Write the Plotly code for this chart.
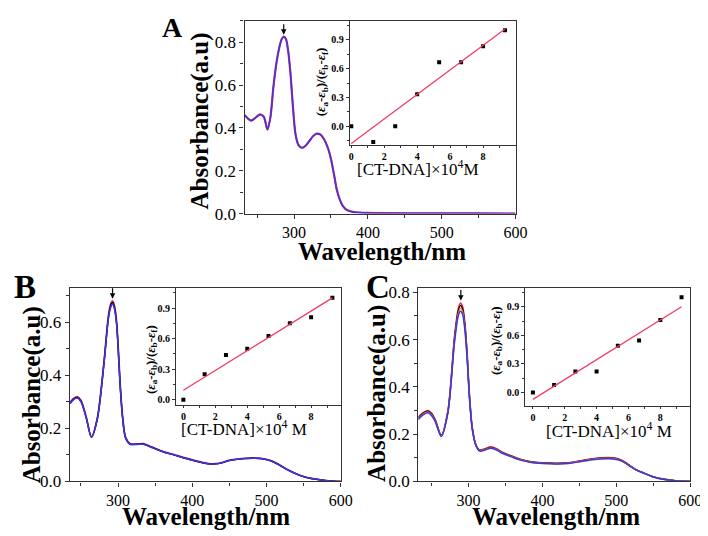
import plotly.graph_objects as go
import numpy as np

# ---------------- data ----------------
wl_A = [233, 238, 242, 248, 254, 259, 264, 268, 272, 276, 280, 283, 286, 289, 292, 295, 298, 302, 306, 311,
        316, 321, 326, 331, 336, 341, 346, 350, 354, 358, 362, 366, 371, 378, 388, 400, 430, 480, 540, 600]
abs_A = [0.460, 0.442, 0.434, 0.448, 0.463, 0.452, 0.392, 0.450, 0.590, 0.700, 0.775, 0.812, 0.826, 0.815,
         0.760, 0.660, 0.520, 0.370, 0.320, 0.307, 0.318, 0.340, 0.362, 0.373, 0.368, 0.345, 0.305, 0.255,
         0.185, 0.110, 0.065, 0.036, 0.018, 0.009, 0.005, 0.003, 0.002, 0.001, 0.001, 0.0]

wl_B = [235, 240, 245, 250, 257, 264, 272, 281, 287, 290, 292.5, 295, 298, 303, 306, 310, 316, 325, 334,
        345, 360, 375, 400, 422, 435, 452, 470, 485, 497, 505, 515, 528, 540, 550, 560, 572, 585, 600]
abs_B_red = [0.296, 0.312, 0.319, 0.305, 0.243, 0.168, 0.238, 0.450, 0.625, 0.668, 0.680, 0.662, 0.600,
             0.356, 0.245, 0.166, 0.142, 0.141, 0.142, 0.130, 0.113, 0.101, 0.081, 0.067, 0.068, 0.081,
             0.087, 0.088, 0.085, 0.079, 0.066, 0.045, 0.029, 0.018, 0.011, 0.006, 0.002, 0.0]
abs_B_black = [0.294, 0.310, 0.316, 0.302, 0.241, 0.167, 0.236, 0.447, 0.620, 0.662, 0.674, 0.656, 0.595,
               0.353, 0.243, 0.165, 0.141, 0.140, 0.141, 0.129, 0.112, 0.100, 0.080, 0.066, 0.067, 0.080,
               0.086, 0.087, 0.084, 0.078, 0.065, 0.044, 0.028, 0.018, 0.011, 0.006, 0.002, 0.0]
abs_B_blue = [0.292, 0.308, 0.314, 0.300, 0.240, 0.166, 0.235, 0.445, 0.615, 0.655, 0.668, 0.650, 0.590,
              0.350, 0.240, 0.164, 0.140, 0.139, 0.140, 0.128, 0.112, 0.100, 0.080, 0.066, 0.067, 0.080,
              0.086, 0.087, 0.084, 0.078, 0.065, 0.044, 0.028, 0.018, 0.011, 0.006, 0.002, 0.0]

wl_C = [232, 238, 245, 250, 255, 263, 272, 281, 286, 289, 292, 295, 298, 301, 305, 310, 315, 322, 330, 338,
        345, 358, 370, 385, 400, 420, 435, 450, 465, 478, 490, 500, 508, 516, 527, 538, 550, 565, 580, 600]
abs_C_red = [0.272, 0.290, 0.300, 0.288, 0.260, 0.196, 0.298, 0.615, 0.730, 0.755, 0.738, 0.670, 0.545,
             0.375, 0.228, 0.155, 0.133, 0.138, 0.146, 0.138, 0.125, 0.108, 0.094, 0.083, 0.079, 0.077,
             0.079, 0.087, 0.095, 0.100, 0.101, 0.098, 0.089, 0.072, 0.050, 0.035, 0.020, 0.009, 0.003, 0.0]
abs_C_black = [0.269, 0.287, 0.297, 0.285, 0.258, 0.194, 0.295, 0.607, 0.720, 0.745, 0.728, 0.660, 0.536,
               0.370, 0.225, 0.153, 0.131, 0.136, 0.144, 0.136, 0.123, 0.107, 0.093, 0.082, 0.078, 0.076,
               0.078, 0.085, 0.094, 0.098, 0.099, 0.096, 0.087, 0.071, 0.049, 0.034, 0.019, 0.009, 0.003, 0.0]
abs_C_orange = [0.266, 0.284, 0.294, 0.282, 0.255, 0.192, 0.293, 0.600, 0.710, 0.733, 0.717, 0.650, 0.528,
                0.365, 0.223, 0.152, 0.130, 0.135, 0.142, 0.135, 0.122, 0.106, 0.092, 0.081, 0.077, 0.075,
                0.077, 0.084, 0.093, 0.097, 0.098, 0.095, 0.086, 0.070, 0.049, 0.034, 0.019, 0.008, 0.003, 0.0]
abs_C_blue = [0.262, 0.280, 0.290, 0.278, 0.252, 0.190, 0.290, 0.590, 0.700, 0.720, 0.705, 0.640, 0.520,
              0.360, 0.220, 0.150, 0.128, 0.133, 0.140, 0.133, 0.120, 0.104, 0.090, 0.080, 0.076, 0.074,
              0.076, 0.083, 0.091, 0.095, 0.096, 0.093, 0.085, 0.069, 0.048, 0.034, 0.019, 0.008, 0.003, 0.0]

dna = [0, 1.333, 2.667, 4.0, 5.333, 6.667, 8.0, 9.333]
ratio_A = [0.0, -0.165, 0.0, 0.333, 0.667, 0.667, 0.833, 1.0]
ratio_B = [0.0, 0.25, 0.44, 0.50, 0.625, 0.75, 0.81, 1.0]
ratio_C = [0.0, 0.08, 0.22, 0.22, 0.49, 0.545, 0.76, 1.0]

x_ticks_main = [300, 400, 500, 600]
inset_x_ticks = [0, 2, 4, 6, 8]
inset_y_ticks = [0.0, 0.3, 0.6, 0.9]

# ---------------- styling ----------------
FONT = "Liberation Serif"
BLUE = "rgb(55,55,235)"
RED = "rgb(232,40,70)"
FIT = "rgb(240,60,100)"
AXC = "#333333"
W, H = 708, 536

def px_dom(a, b, total, flip=False):
    if flip:
        return [1 - b / total, 1 - a / total]
    return [a / total, b / total]

fig = go.Figure()

def spec(x, y, color, xa, ya, width=1.6):
    fig.add_trace(go.Scatter(x=x, y=y, mode="lines", line=dict(color=color, width=width, shape="spline", smoothing=0.8),
                             xaxis=xa, yaxis=ya, showlegend=False, hoverinfo="skip"))

def inset(x, y, xa, ya):
    fig.add_trace(go.Scatter(x=x, y=y, mode="markers", marker=dict(symbol="square", size=4, color="black"),
                             xaxis=xa, yaxis=ya, showlegend=False))
    k, b = np.polyfit(x, y, 1)
    xf = [x[0], x[-1]]
    fig.add_trace(go.Scatter(x=xf, y=[k * v + b for v in xf], mode="lines", line=dict(color=FIT, width=1.3),
                             xaxis=xa, yaxis=ya, showlegend=False))

# Panel A
spec(wl_A, abs_A, RED, "x", "y", 2.2)
spec(wl_A, abs_A, BLUE, "x", "y", 1.5)
inset(dna, ratio_A, "x2", "y2")
# Panel B
spec(wl_B, abs_B_red, RED, "x3", "y3", 1.8)
spec(wl_B, abs_B_black, "black", "x3", "y3", 1.4)
spec(wl_B, abs_B_blue, BLUE, "x3", "y3", 1.5)
inset(dna, ratio_B, "x4", "y4")
# Panel C
spec(wl_C, abs_C_red, RED, "x5", "y5", 1.6)
spec(wl_C, abs_C_black, "black", "x5", "y5", 1.4)
spec(wl_C, abs_C_orange, "rgb(230,130,40)", "x5", "y5", 1.4)
spec(wl_C, abs_C_blue, BLUE, "x5", "y5", 1.5)
inset(dna, ratio_C, "x6", "y6")

def main_x(dom, rng, anchor):
    return dict(domain=dom, range=rng, anchor=anchor, tickvals=x_ticks_main, ticks="outside", ticklen=4,
                tickcolor=AXC, showline=True, mirror=True, linecolor=AXC, linewidth=1.2, showgrid=False,
                zeroline=False, tickfont=dict(family=FONT, size=16, color="black"),
                minor=dict(dtick=50, tick0=0, ticks="outside", ticklen=3, tickcolor=AXC))

def main_y(dom, rng, anchor):
    return dict(domain=dom, range=rng, anchor=anchor, dtick=0.2, tick0=0, tickformat=".1f", ticks="outside",
                ticklen=4, tickcolor=AXC, showline=True, mirror=True, linecolor=AXC, linewidth=1.2,
                showgrid=False, zeroline=False, tickfont=dict(family=FONT, size=17, color="black"),
                minor=dict(dtick=0.1, tick0=0, ticks="outside", ticklen=3, tickcolor=AXC))

def ins_x(dom, rng, anchor):
    return dict(domain=dom, range=rng, anchor=anchor, tickvals=inset_x_ticks, ticks="outside", ticklen=2,
                tickcolor=AXC, showline=True, mirror=True, linecolor=AXC, linewidth=1, showgrid=False,
                zeroline=False, tickfont=dict(family=FONT, size=10, color="black", weight="bold"),
                minor=dict(dtick=1, tick0=0, ticks="outside", ticklen=2, tickcolor=AXC))

def ins_y(dom, rng, anchor):
    return dict(domain=dom, range=rng, anchor=anchor, tickvals=inset_y_ticks, tickformat=".1f", ticks="outside",
                ticklen=3, tickcolor=AXC, showline=True, mirror=True, linecolor=AXC, linewidth=1,
                showgrid=False, zeroline=False, tickfont=dict(family=FONT, size=10, color="black", weight="bold"),
                minor=dict(dtick=0.15, tick0=0, ticks="outside", ticklen=2, tickcolor=AXC))

fig.update_layout(
    width=W, height=H, margin=dict(l=0, r=0, t=0, b=0), paper_bgcolor="white", plot_bgcolor="white",
    font=dict(family=FONT, color="black"),
    xaxis=main_x(px_dom(240, 516, W), [233, 600], "y"),
    yaxis=main_y(px_dom(9, 207, H, True), [0, 0.9], "x"),
    xaxis2=ins_x(px_dom(347, 516, W), [-0.1, 9.97], "y2"),
    yaxis2=ins_y(px_dom(9, 137, H, True), [-0.2, 1.1], "x2"),
    xaxis3=main_x(px_dom(62, 338, W), [235, 600], "y3"),
    yaxis3=main_y(px_dom(283, 482, H, True), [0, 0.73], "x3"),
    xaxis4=ins_x(px_dom(170, 338, W), [-0.47, 9.86], "y4"),
    yaxis4=ins_y(px_dom(283, 404, H, True), [-0.055, 1.1], "x4"),
    xaxis5=main_x(px_dom(417, 694, W), [232, 600], "y5"),
    yaxis5=main_y(px_dom(283, 482, H, True), [0, 0.82], "x5"),
    xaxis6=ins_x(px_dom(526, 694, W), [-0.475, 9.88], "y6"),
    yaxis6=ins_y(px_dom(283, 405, H, True), [-0.145, 1.1], "x6"),
)

ann = []
def paper_text(text, x, y, size, angle=0, bold=True):
    ann.append(dict(text=("<b>%s</b>" % text) if bold else text, x=x / W, y=1 - y / H, xref="paper", yref="paper",
                    showarrow=False, textangle=angle, xanchor="center", yanchor="middle",
                    font=dict(family=FONT, size=size, color="black")))

# panel letters
paper_text("A", 167, 16, 28)
paper_text("B", 16, 282, 33)
paper_text("C", 376, 282, 33)
# main titles
paper_text("Absorbance(a.u)", 195, 112, 25, -90)
paper_text("Wavelength/nm", 380, 246, 25)
paper_text("Absorbance(a.u)", 23, 393, 25, -90)
paper_text("Wavelength/nm", 201, 518, 25)
paper_text("Absorbance(a.u)", 375, 392, 25, -90)
paper_text("Wavelength/nm", 557, 518, 25)
# inset titles
ytitle = "(<i>ε</i><sub>a</sub>-<i>ε</i><sub>b</sub>)/(<i>ε</i><sub>b</sub>-<i>ε</i><sub>f</sub>)"
xtitle = "[CT-DNA]×10<sup>4</sup>M"
paper_text(ytitle, 318, 72, 13, -90)
paper_text(xtitle, 417, 160, 17, bold=False)
paper_text(ytitle, 145, 357, 13, -90)
paper_text(xtitle.replace("M", " M"), 239, 427, 17, bold=False)
paper_text(ytitle, 496, 337, 13, -90)
paper_text(xtitle.replace("M", " M"), 611, 429, 17, bold=False)

# arrows at peaks
for xa, ya, xv, yv in [("x", "y", 286, 0.835), ("x3", "y3", 292.5, 0.688), ("x5", "y5", 289.5, 0.765)]:
    ann.append(dict(x=xv, y=yv, xref=xa, yref=ya, ax=0, ay=-12, showarrow=True, arrowhead=2, arrowsize=0.9,
                    arrowwidth=1.2, arrowcolor="black", text=""))

fig.update_layout(annotations=ann)
fig.write_html("out.html")
